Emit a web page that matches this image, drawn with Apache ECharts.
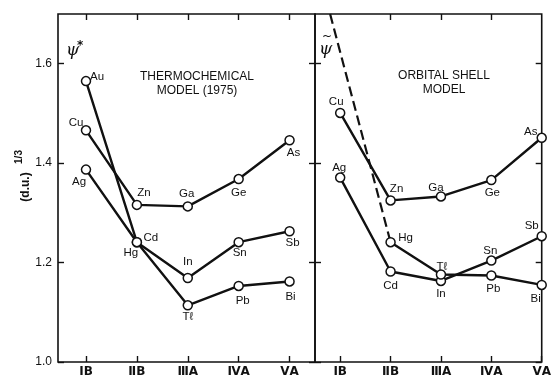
<!DOCTYPE html>
<html>
<head>
<meta charset="utf-8">
<script src="https://cdn.jsdelivr.net/npm/echarts@6/dist/echarts.min.js"></script>
<style>
  html, body { margin: 0; padding: 0; background: #fff; }
  #chart { width: 554px; height: 378px; }
</style>
</head>
<body>
<div id="chart"></div>
<script>
// Periodic-table groups along the x axis
const groupLabels = ['ⅠB', 'ⅡB', 'ⅢA', 'ⅣA', 'ⅤA'];
const groupPos = [1, 2, 3, 4, 5];
const yTickValues = [1.0, 1.2, 1.4, 1.6];

// Element symbols, one row per period
const period4 = ['Cu', 'Zn', 'Ga', 'Ge', 'As'];
const period5 = ['Ag', 'Cd', 'In', 'Sn', 'Sb'];
const period6 = ['Au', 'Hg', 'Tℓ', 'Pb', 'Bi'];

// Thermochemical model (1975)
const thermoP4 = [1.466, 1.316, 1.313, 1.368, 1.446];
const thermoP5 = [1.387, 1.241, 1.169, 1.241, 1.263];
const thermoP6 = [1.565, 1.241, 1.114, 1.153, 1.162];

// Orbital shell model (Au lies off scale)
const orbitalP4 = [1.501, 1.325, 1.333, 1.366, 1.451];
const orbitalP5 = [1.371, 1.182, 1.163, 1.204, 1.253];
const orbitalP6 = [null, 1.241, 1.176, 1.174, 1.155];
// dashed Au -> Hg trend, leaving through the top of the panel
const orbitalAuX = [0.8, 2];
const orbitalAuY = [1.70, 1.241];

// label placement around each marker (pixels)
const thermoLabelOffset = {
  Cu: [-10, -8], Zn: [7, -12], Ga: [-1, -13], Ge: [0, 14], As: [4, 13],
  Ag: [-7, 12], Cd: [14, -4], In: [0, -16], Sn: [1, 11], Sb: [3, 12],
  Au: [11, -4], Hg: [-6, 11], 'Tℓ': [0, 12], Pb: [4, 15], Bi: [1, 15]
};
const orbitalLabelOffset = {
  Cu: [-4, -11], Zn: [6, -12], Ga: [-5, -9], Ge: [1, 13], As: [-11, -6],
  Ag: [-1, -10], Cd: [0, 14], In: [0, 13], Sn: [-1, -10], Sb: [-10, -10],
  Hg: [15, -4], 'Tℓ': [1, -8], Pb: [2, 13], Bi: [-6, 14]
};

const INK = '#111';
const FONT = '"Liberation Sans", Arial, sans-serif';

function rowSeries(axisIdx, names, values, offsets) {
  const data = [];
  values.forEach((v, i) => {
    if (v == null) return;
    data.push({ value: [groupPos[i], v], name: names[i], label: { offset: offsets[names[i]] } });
  });
  return {
    type: 'line',
    xAxisIndex: axisIdx,
    yAxisIndex: axisIdx,
    data: data,
    symbol: 'circle',
    symbolSize: 9,
    itemStyle: { color: '#fff', borderColor: INK, borderWidth: 1.5 },
    lineStyle: { color: INK, width: 2.4 },
    label: {
      show: true, position: 'inside', formatter: '{b}',
      color: INK, fontFamily: FONT, fontSize: 11.5
    },
    emphasis: { disabled: true },
    animation: false,
    z: 3
  };
}

function bottomAxis(gridIndex, min, max, tickVals) {
  return {
    gridIndex, type: 'value', min, max, position: 'bottom',
    axisLine: { show: false }, splitLine: { show: false },
    axisTick: { inside: true, length: 6, customValues: tickVals, lineStyle: { color: INK, width: 1.4 } },
    axisLabel: {
      customValues: groupPos, margin: 4,
      formatter: v => groupLabels[groupPos.indexOf(v)],
      color: INK, fontFamily: '"DejaVu Sans", sans-serif', fontWeight: 'bold', fontSize: 12
    }
  };
}
function topAxis(gridIndex, min, max, tickVals) {
  return {
    gridIndex, type: 'value', min, max, position: 'top',
    axisLine: { show: false }, splitLine: { show: false },
    axisTick: { inside: true, length: 6, customValues: tickVals, lineStyle: { color: INK, width: 1.4 } },
    axisLabel: { show: false }
  };
}
function sideAxis(gridIndex, position, showLabels) {
  return {
    gridIndex, type: 'value', min: 1.0, max: 1.7, position,
    axisLine: { show: false }, splitLine: { show: false },
    axisTick: { inside: true, length: 6, customValues: yTickValues, lineStyle: { color: INK, width: 1.4 } },
    axisLabel: {
      show: showLabels, customValues: yTickValues, margin: 6,
      formatter: v => v.toFixed(1),
      color: INK, fontFamily: FONT, fontSize: 12
    }
  };
}

const chart = echarts.init(document.getElementById('chart'), null, { renderer: 'canvas' });

chart.setOption({
  backgroundColor: '#fff',
  animation: false,
  grid: [
    { left: 58, top: 14, width: 257, height: 349, show: true, borderColor: INK, borderWidth: 1.6, backgroundColor: 'transparent' },
    { left: 315, top: 14, width: 230, height: 349, show: true, borderColor: INK, borderWidth: 1.6, backgroundColor: 'transparent' }
  ],
  xAxis: [
    bottomAxis(0, 0.45, 5.5, groupPos),
    bottomAxis(1, 0.5, 5, groupPos),
    topAxis(0, 0.45, 5.5, groupPos),
    topAxis(1, 0.5, 5, [2, 3, 4])
  ],
  yAxis: [
    sideAxis(0, 'left', true),
    sideAxis(1, 'left', false),
    sideAxis(0, 'right', false),
    sideAxis(1, 'right', false)
  ],
  series: [
    rowSeries(0, period4, thermoP4, thermoLabelOffset),
    rowSeries(0, period5, thermoP5, thermoLabelOffset),
    rowSeries(0, period6, thermoP6, thermoLabelOffset),
    {
      type: 'line', xAxisIndex: 1, yAxisIndex: 1,
      data: orbitalAuX.map((x, i) => [x, orbitalAuY[i]]),
      symbol: 'none',
      lineStyle: { color: INK, width: 2.2, type: [10, 5] },
      emphasis: { disabled: true }, z: 2
    },
    rowSeries(1, period4, orbitalP4, orbitalLabelOffset),
    rowSeries(1, period5, orbitalP5, orbitalLabelOffset),
    rowSeries(1, period6, orbitalP6, orbitalLabelOffset)
  ],
  graphic: [
    {
      type: 'text', x: 26, y: 187, rotation: Math.PI / 2,
      style: {
        text: '(d.u.)', fill: INK, align: 'center', verticalAlign: 'middle',
        font: 'bold 12px "Liberation Sans", Arial, sans-serif'
      }
    },
    {
      type: 'text', x: 19, y: 157, rotation: Math.PI / 2,
      style: {
        text: '1/3', fill: INK, align: 'center', verticalAlign: 'middle',
        font: 'bold 10px "Liberation Sans", Arial, sans-serif'
      }
    },
    {
      type: 'text', x: 66, y: 42,
      style: { text: 'ψ', fill: INK, font: 'italic 17px "DejaVu Serif", serif' }
    },
    {
      type: 'text', x: 77, y: 40,
      style: { text: '*', fill: INK, font: 'bold 12px "DejaVu Sans", sans-serif' }
    },
    {
      type: 'text', x: 319, y: 41,
      style: { text: 'ψ', fill: INK, font: 'italic 17px "DejaVu Serif", serif' }
    },
    {
      type: 'text', x: 322, y: 31,
      style: { text: '~', fill: INK, font: '12px "DejaVu Sans", sans-serif' }
    },
    {
      type: 'text', x: 197, y: 84,
      style: {
        text: 'THERMOCHEMICAL\nMODEL (1975)', fill: INK, align: 'center', verticalAlign: 'middle',
        lineHeight: 14, font: '12px "Liberation Sans", Arial, sans-serif'
      }
    },
    {
      type: 'text', x: 444, y: 83,
      style: {
        text: 'ORBITAL SHELL\nMODEL', fill: INK, align: 'center', verticalAlign: 'middle',
        lineHeight: 14, font: '12px "Liberation Sans", Arial, sans-serif'
      }
    }
  ]
});
</script>
</body>
</html>
